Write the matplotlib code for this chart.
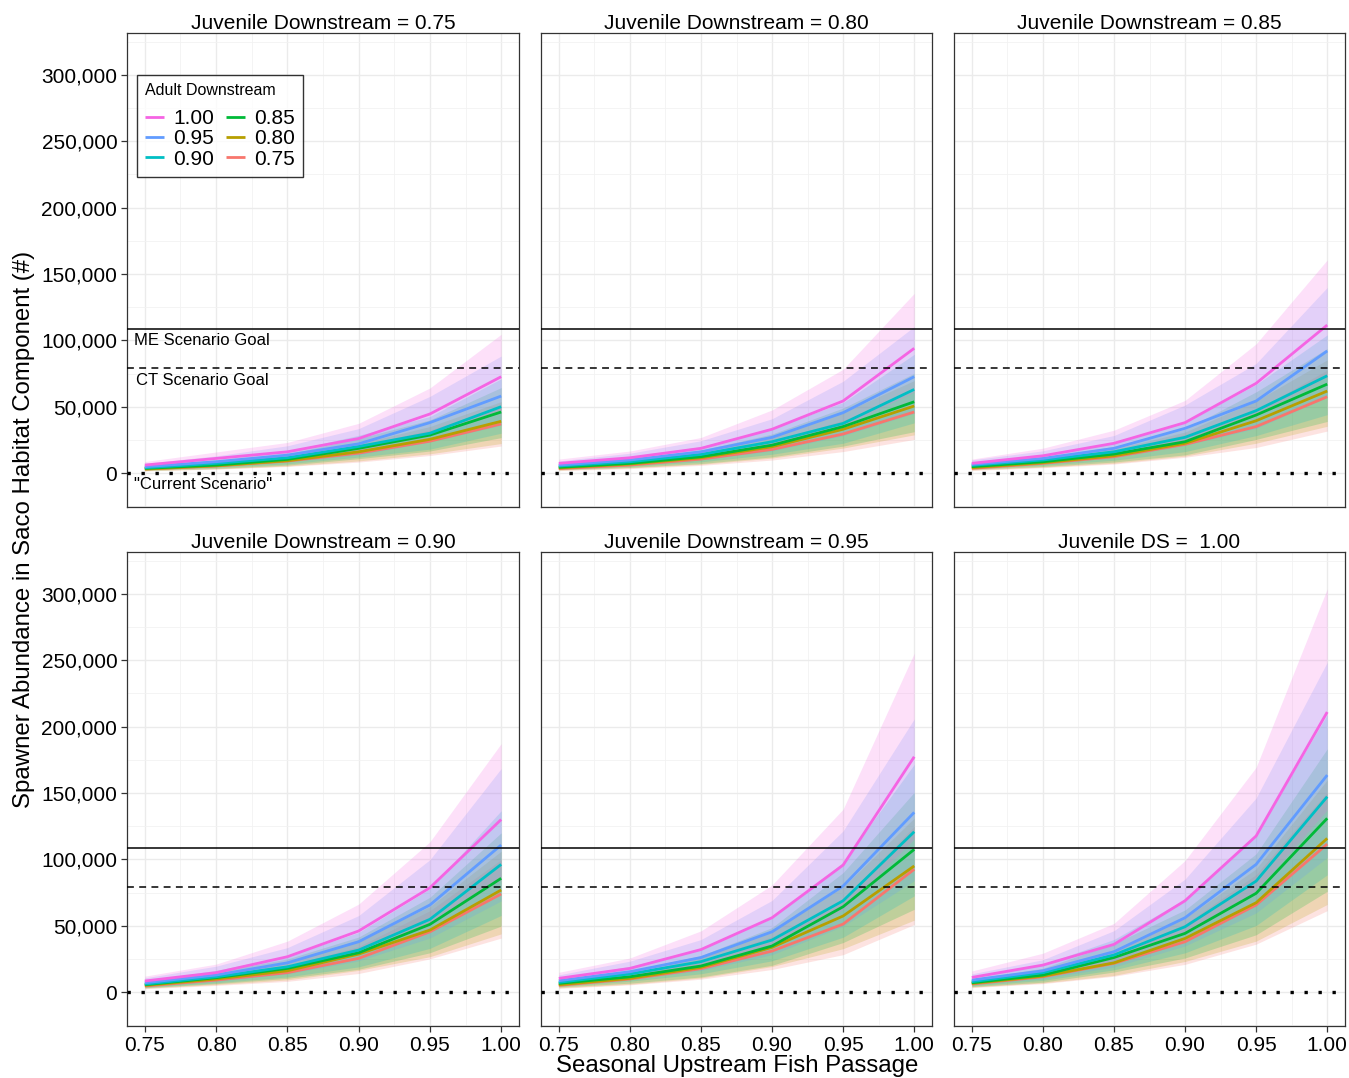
import numpy as np
import matplotlib
matplotlib.use("Agg")
import matplotlib.pyplot as plt
from matplotlib.ticker import FuncFormatter, MultipleLocator

plt.rcParams['font.family'] = ['Liberation Sans', 'DejaVu Sans']

# seasonal upstream passage (x axis)
passage = [0.75, 0.80, 0.85, 0.90, 0.95, 1.00]

# adult downstream levels (colour groups), lowest first
adult_levels = ["0.75", "0.80", "0.85", "0.90", "0.95", "1.00"]
adult_colors = ["#F8766D", "#B79F00", "#00BA38", "#00BFC4", "#619CFF", "#F564E3"]

# juvenile downstream levels (facets)
facet_titles = ["Juvenile Downstream = 0.75", "Juvenile Downstream = 0.80",
                "Juvenile Downstream = 0.85", "Juvenile Downstream = 0.90",
                "Juvenile Downstream = 0.95", "Juvenile DS =  1.00"]

# median spawners (thousands), rows follow adult_levels
spawn_j075 = [[3.0, 5.3, 9.0, 15.0, 24.0, 37.0],
              [3.0, 5.5, 9.3, 16.0, 25.4, 39.0],
              [3.5, 6.0, 10.3, 18.6, 28.6, 46.0],
              [4.0, 7.3, 11.5, 20.0, 30.0, 50.0],
              [4.8, 8.5, 13.5, 22.0, 38.0, 58.0],
              [6.0, 11.0, 16.0, 26.0, 44.5, 72.6]]
spawn_j080 = [[3.3, 6.0, 10.5, 17.8, 29.4, 46.0],
              [3.8, 6.8, 11.5, 19.8, 33.0, 50.5],
              [4.3, 7.3, 12.3, 21.0, 35.0, 53.7],
              [5.3, 8.5, 14.0, 23.6, 37.4, 63.0],
              [6.0, 9.8, 16.0, 26.9, 45.5, 72.6],
              [7.3, 11.5, 18.6, 33.0, 54.3, 94.0]]
spawn_j085 = [[3.5, 7.3, 12.3, 21.6, 35.0, 57.5],
              [4.0, 7.8, 13.0, 22.4, 39.4, 61.8],
              [4.8, 8.5, 14.3, 23.6, 43.7, 67.0],
              [5.8, 9.8, 16.0, 26.9, 47.0, 73.3],
              [6.5, 11.0, 18.6, 33.7, 54.3, 92.0],
              [7.3, 13.0, 22.4, 38.0, 67.6, 111.5]]
spawn_j090 = [[4.5, 9.0, 14.6, 25.4, 45.4, 73.9],
              [5.0, 9.8, 16.0, 28.6, 46.7, 76.9],
              [5.5, 10.8, 17.8, 29.6, 51.0, 85.7],
              [6.0, 11.5, 19.0, 31.6, 54.8, 96.2],
              [7.0, 12.8, 22.0, 37.9, 65.6, 110.8],
              [8.3, 14.6, 26.6, 46.0, 78.6, 130.0]]
spawn_j095 = [[5.0, 9.8, 17.6, 30.9, 51.2, 92.5],
              [5.5, 10.3, 18.6, 33.7, 57.3, 95.0],
              [6.5, 11.5, 19.6, 34.7, 64.3, 107.5],
              [7.3, 13.6, 22.9, 39.2, 68.8, 120.8],
              [8.5, 15.3, 26.0, 45.4, 79.9, 135.4],
              [10.3, 17.8, 32.0, 56.0, 95.7, 177.3]]
spawn_j100 = [[6.0, 11.5, 21.6, 37.9, 65.6, 111.5],
              [6.5, 12.0, 22.0, 40.4, 67.3, 115.8],
              [7.0, 12.8, 26.0, 44.2, 74.4, 130.9],
              [7.8, 14.6, 27.9, 49.2, 83.6, 147.2],
              [9.0, 16.0, 30.4, 56.0, 96.2, 163.5],
              [11.0, 20.3, 35.9, 68.8, 117.6, 211.0]]
facet_data = [spawn_j075, spawn_j080, spawn_j085, spawn_j090, spawn_j095, spawn_j100]

# interval bounds relative to the median
band_low = [0.55, 0.57, 0.58, 0.60, 0.62, 0.65]
band_high = [1.35, 1.38, 1.40, 1.42, 1.52, 1.44]

# reference lines (thousands)
me_goal = 108.5
ct_goal = 79.0
current = 0.0

W, H = 1349, 1078
fig = plt.figure(figsize=(W / 100, H / 100), dpi=100)

lefts = [127, 541, 954]
widths = [392, 391, 391]
tops = [33, 552]
ph = 474

comma = FuncFormatter(lambda v, p: f"{int(round(v * 1000)):,}")

for i, title in enumerate(facet_titles):
    r, c = divmod(i, 3)
    ax = fig.add_axes([lefts[c] / W, 1 - (tops[r] + ph) / H, widths[c] / W, ph / H])
    x = np.array(passage)
    vals = facet_data[i]

    for k in range(len(adult_levels)):
        m = np.array(vals[k])
        ax.fill_between(x, m * band_low[k], m * band_high[k],
                        color=adult_colors[k], alpha=0.2, lw=0, zorder=2)
    for k in range(len(adult_levels)):
        ax.plot(x, vals[k], color=adult_colors[k], lw=2.0, zorder=3,
                label=adult_levels[k], solid_capstyle='butt')

    ax.axhline(me_goal, color='black', lw=1.1, zorder=4)
    ax.axhline(ct_goal, color='black', lw=1.1, ls=(0, (4.5, 3.5)), zorder=4)
    ax.axhline(current, color='black', lw=2.4, ls=(0, (1, 3.2)), zorder=4)

    ax.set_xlim(0.7375, 1.0125)
    ax.set_ylim(-25.6, 331.6)
    ax.xaxis.set_major_locator(MultipleLocator(0.05))
    ax.xaxis.set_minor_locator(MultipleLocator(0.025))
    ax.yaxis.set_major_locator(MultipleLocator(50))
    ax.yaxis.set_minor_locator(MultipleLocator(25))
    ax.grid(which='major', color='#EBEBEB', lw=1.0, zorder=0)
    ax.grid(which='minor', color='#F2F2F2', lw=0.6, zorder=0)
    ax.set_axisbelow(True)
    for s in ax.spines.values():
        s.set_color('#333333')
        s.set_linewidth(0.9)
    ax.tick_params(which='minor', length=0)
    ax.tick_params(which='major', length=4, width=0.9, color='#333333',
                   labelsize=15, labelcolor='black', pad=3)

    if c == 0:
        ax.yaxis.set_major_formatter(comma)
    else:
        ax.tick_params(axis='y', labelleft=False, length=0)
    if r == 1:
        ax.xaxis.set_major_formatter(FuncFormatter(lambda v, p: f"{v:.2f}"))
    else:
        ax.tick_params(axis='x', labelbottom=False, length=0)

    ax.set_title(title, fontsize=15, pad=2)

    if i == 0:
        ax.text(0.7423, 99.5, "ME Scenario Goal", fontsize=12, va='center', ha='left')
        ax.text(0.7437, 70.0, "CT Scenario Goal", fontsize=12, va='center', ha='left')
        ax.text(0.7425, -8.3, "\"Current Scenario\"", fontsize=12, va='center', ha='left')
        h, l = ax.get_legend_handles_labels()
        h, l = h[::-1], l[::-1]
        leg = ax.legend(h, l, title="Adult Downstream", ncol=2, loc='upper left',
                        bbox_to_anchor=(0.0255, 0.9114), fontsize=15,
                        title_fontsize=11.5, frameon=True, fancybox=False,
                        handlelength=0.9, handletextpad=0.45, columnspacing=0.55,
                        labelspacing=0.05, borderpad=0.4, borderaxespad=0)
        leg.get_frame().set_edgecolor('black')
        leg.get_frame().set_linewidth(1.0)
        leg._legend_box.align = "left"
        leg._legend_box.sep = 8

fig.text(0.0175, 0.509, "Spawner Abundance in Saco Habitat Component (#)",
         rotation=90, fontsize=17.3, ha='center', va='center')
fig.text(0.5463, 0.0111, "Seasonal Upstream Fish Passage", fontsize=17.3,
         ha='center', va='center')

fig.savefig("out.png", dpi=100)
